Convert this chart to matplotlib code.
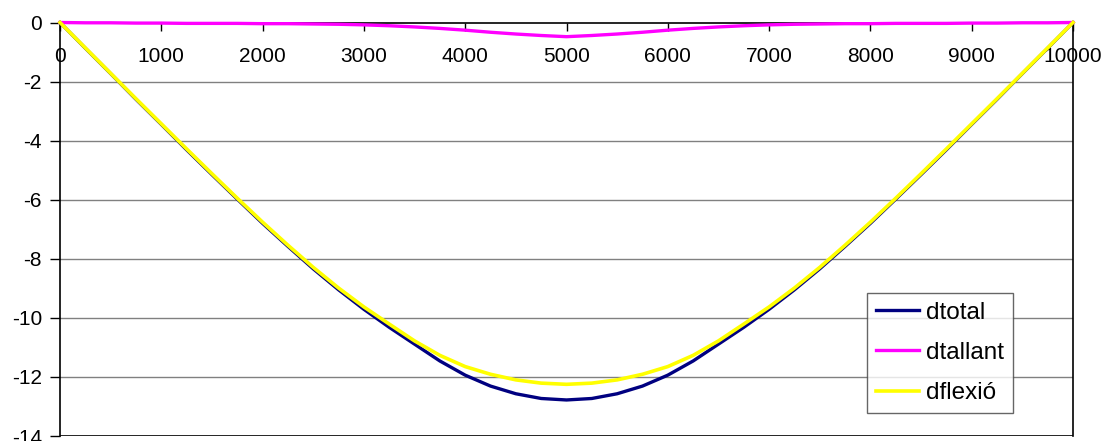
import matplotlib
matplotlib.use('Agg')
import matplotlib.pyplot as plt

plt.rcParams['font.family'] = ['Liberation Sans', 'DejaVu Sans']
plt.rcParams['axes.unicode_minus'] = False

# position along the beam
x = [0, 250, 500, 750, 1000, 1250, 1500, 1750, 2000, 2250, 2500,
     2750, 3000, 3250, 3500, 3750, 4000, 4250, 4500, 4750, 5000,
     5250, 5500, 5750, 6000, 6250, 6500, 6750, 7000, 7250, 7500,
     7750, 8000, 8250, 8500, 8750, 9000, 9250, 9500, 9750, 10000]

dtotal = [0, -0.87, -1.73, -2.60, -3.45, -4.31, -5.15, -5.98, -6.80, -7.58, -8.34,
          -9.05, -9.71, -10.32, -10.89, -11.46, -11.94, -12.31, -12.57, -12.73, -12.78,
          -12.73, -12.57, -12.31, -11.94, -11.46, -10.89, -10.32, -9.71, -9.05, -8.34,
          -7.58, -6.80, -5.98, -5.15, -4.31, -3.45, -2.60, -1.73, -0.87, 0]

dtallant = [0, -0.01, -0.01, -0.02, -0.02, -0.03, -0.03, -0.03, -0.04, -0.04, -0.05,
            -0.06, -0.08, -0.11, -0.15, -0.20, -0.26, -0.33, -0.39, -0.44, -0.48,
            -0.44, -0.39, -0.33, -0.26, -0.20, -0.15, -0.11, -0.08, -0.06, -0.05,
            -0.04, -0.04, -0.03, -0.03, -0.03, -0.02, -0.02, -0.01, -0.01, 0]

dflexio = [0, -0.86, -1.72, -2.58, -3.43, -4.28, -5.12, -5.95, -6.76, -7.54, -8.29,
           -8.99, -9.63, -10.21, -10.78, -11.27, -11.65, -11.91, -12.10, -12.21, -12.25,
           -12.21, -12.10, -11.91, -11.65, -11.27, -10.78, -10.21, -9.63, -8.99, -8.29,
           -7.54, -6.76, -5.95, -5.12, -4.28, -3.43, -2.58, -1.72, -0.86, 0]

xticks = list(range(0, 10001, 1000))
yticks = list(range(-14, 1, 2))

fig = plt.figure(figsize=(11.08, 4.41), dpi=100)
ax = fig.add_axes([60 / 1108, 1 - 436 / 441, 1013 / 1108, 413.5 / 441])

for y in yticks[1:-1]:
    ax.axhline(y, color='#808080', lw=1.0, zorder=1)
ax.axhline(-14, color='black', lw=1.2, zorder=1)

ax.plot(x, dtotal, color='#000080', lw=2.4, label='dtotal', clip_on=False, zorder=3)
ax.plot(x, dtallant, color='#FF00FF', lw=2.4, label='dtallant', clip_on=False, zorder=3)
ax.plot(x, dflexio, color='#FFFF00', lw=2.6, label='dflexió', clip_on=False, zorder=4)

ax.set_xlim(0, 10000)
ax.set_ylim(-14, 0)
ax.set_xticks(xticks)
ax.set_yticks(yticks)

# x axis sits on y = 0 with labels hanging inside the plot
ax.spines['bottom'].set_position(('data', 0))
ax.spines['top'].set_visible(False)
for s in ['bottom', 'left', 'right']:
    ax.spines[s].set_color('black')
    ax.spines[s].set_linewidth(1.2)
ax.spines['bottom'].set_zorder(2)

ax.tick_params(axis='x', direction='out', length=6, width=1, pad=12, labelsize=15)
ax.tick_params(axis='y', direction='out', length=7, width=1, pad=6, labelsize=15)

leg = ax.legend(loc='upper left', bbox_to_anchor=(0.797, 0.346), fontsize=17.5,
                frameon=True, fancybox=False, edgecolor='#404040',
                handlelength=1.77, labelspacing=0.75, borderpad=0.36,
                handletextpad=0.29, borderaxespad=0)
leg.get_frame().set_linewidth(1.0)

fig.savefig('out.png', dpi=100)
